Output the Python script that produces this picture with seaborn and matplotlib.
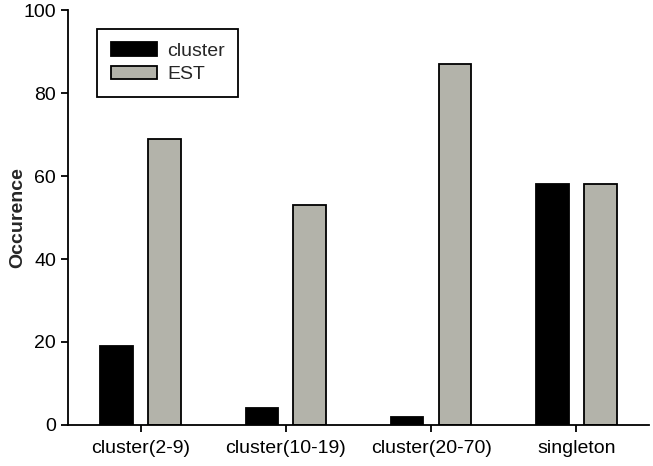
import pandas as pd
import matplotlib.pyplot as plt
import seaborn as sns

# data
categorias = ['cluster(2-9)', 'cluster(10-19)', 'cluster(20-70)', 'singleton']
cluster = [19, 4, 2, 58]
est = [69, 53, 87, 58]

df = pd.DataFrame({
    'categoria': categorias * 2,
    'valor': cluster + est,
    'serie': ['cluster'] * len(categorias) + ['EST'] * len(categorias),
})

sns.set_style('ticks')
plt.rcParams['font.family'] = ['Liberation Sans', 'DejaVu Sans']

fig = plt.figure(figsize=(6.53, 4.66), dpi=100)
ax = fig.add_axes([0.104, 0.088, 0.8899, 0.8905])

sns.barplot(data=df, x='categoria', y='valor', hue='serie',
            palette={'cluster': '#000000', 'EST': '#b5b5a8'},
            width=0.66, gap=0.32, edgecolor='black', linewidth=1.3,
            errorbar=None, ax=ax)

ax.set_ylim(0, 100)
ax.set_xlim(-0.5, 3.5)
ax.set_yticks(range(0, 101, 20))
ax.set_xlabel('')
ax.set_ylabel('Occurence', fontsize=14, fontweight='bold')
ax.yaxis.set_label_coords(-0.072, 0.5)
ax.tick_params(labelsize=14, width=1.3, length=5, color='black', labelcolor='black')
ax.tick_params(axis='x', pad=6)
for s in ['left', 'bottom']:
    ax.spines[s].set_linewidth(1.3)
    ax.spines[s].set_color('black')
sns.despine(ax=ax)

leg = ax.legend(loc='upper left', bbox_to_anchor=(0.05, 0.955), borderaxespad=0,
                fontsize=14, frameon=True, fancybox=False, framealpha=1,
                handlelength=2.4, handleheight=0.67, handletextpad=0.5,
                labelspacing=0.3, borderpad=0.7, title=None)
leg.get_frame().set_edgecolor('black')
leg.get_frame().set_linewidth(1.3)

plt.savefig('out.png', dpi=100)
